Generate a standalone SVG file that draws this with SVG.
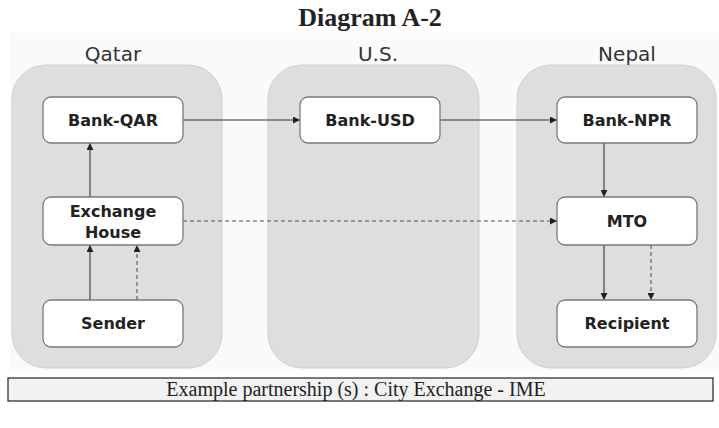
<svg xmlns="http://www.w3.org/2000/svg" width="719" height="428" viewBox="0 0 719 428">
<style>
.panel{fill:#dedede;stroke:#cfcfcf;stroke-width:1}
.node{fill:#ffffff;stroke:#7a7a7a;stroke-width:1.3}
.nt{font-family:"DejaVu Sans",Verdana,sans-serif;font-weight:bold;font-size:16px;fill:#222;text-anchor:middle}
.pl{font-family:"DejaVu Sans",Verdana,sans-serif;font-size:20px;fill:#333;text-anchor:middle}
.ln{stroke:#333;stroke-width:1.1;fill:none}
.dash{stroke-dasharray:4 3;stroke:#555}
</style>
<defs>
<marker id="ah" viewBox="0 0 10 10" refX="10" refY="5" markerWidth="7" markerHeight="7" orient="auto" markerUnits="userSpaceOnUse">
<path d="M0,0 L10,5 L0,10 z" fill="#222"/>
</marker>
</defs>
<rect x="0" y="0" width="719" height="428" fill="#ffffff"/>
<rect x="10" y="33" width="709" height="338" fill="#fafafa"/>
<text x="370" y="26" font-family="'Liberation Serif','Times New Roman',serif" font-weight="bold" font-size="26" text-anchor="middle" fill="#222">Diagram A-2</text>
<g id="panel-qatar">
<rect class="panel" x="12" y="65" width="210" height="303" rx="34"/>
<text class="pl" x="113" y="61">Qatar</text>
</g>
<g id="panel-us">
<rect class="panel" x="268" y="65" width="211" height="303" rx="34"/>
<text class="pl" x="378" y="61">U.S.</text>
</g>
<g id="panel-nepal">
<rect class="panel" x="517" y="65" width="199" height="303" rx="34"/>
<text class="pl" x="627" y="61">Nepal</text>
</g>
<g id="connectors">
<line class="ln" x1="183" y1="120" x2="300" y2="120" marker-end="url(#ah)"/>
<line class="ln" x1="440" y1="120" x2="557" y2="120" marker-end="url(#ah)"/>
<line class="ln" x1="90" y1="197" x2="90" y2="143" marker-end="url(#ah)"/>
<line class="ln" x1="90" y1="300" x2="90" y2="245" marker-end="url(#ah)"/>
<line class="ln dash" x1="137" y1="300" x2="137" y2="245" marker-end="url(#ah)"/>
<line class="ln dash" x1="183" y1="221" x2="557" y2="221" marker-end="url(#ah)"/>
<line class="ln" x1="604" y1="143" x2="604" y2="197" marker-end="url(#ah)"/>
<line class="ln" x1="604" y1="245" x2="604" y2="300" marker-end="url(#ah)"/>
<line class="ln dash" x1="651" y1="245" x2="651" y2="300" marker-end="url(#ah)"/>
</g>
<g id="bank-qar">
<rect class="node" x="43" y="97" width="140" height="46" rx="8"/>
<text class="nt" x="113" y="126">Bank-QAR</text>
</g>
<g id="bank-usd">
<rect class="node" x="300" y="97" width="140" height="46" rx="8"/>
<text class="nt" x="370" y="126">Bank-USD</text>
</g>
<g id="bank-npr">
<rect class="node" x="557" y="97" width="140" height="46" rx="8"/>
<text class="nt" x="627" y="126">Bank-NPR</text>
</g>
<g id="exchange-house">
<rect class="node" x="43" y="197" width="140" height="48" rx="8"/>
<text class="nt" x="113" y="217">Exchange</text>
<text class="nt" x="113" y="238">House</text>
</g>
<g id="mto">
<rect class="node" x="557" y="197" width="140" height="48" rx="8"/>
<text class="nt" x="627" y="227">MTO</text>
</g>
<g id="sender">
<rect class="node" x="43" y="300" width="140" height="47" rx="8"/>
<text class="nt" x="113" y="329">Sender</text>
</g>
<g id="recipient">
<rect class="node" x="557" y="300" width="140" height="47" rx="8"/>
<text class="nt" x="627" y="329">Recipient</text>
</g>
<g id="footer">
<rect x="8" y="378" width="705" height="23" fill="#f2f2f2" stroke="#222" stroke-width="1.2"/>
<text x="356" y="396" font-family="'Liberation Serif','Times New Roman',serif" font-size="20" text-anchor="middle" fill="#222">Example partnership (s) : City Exchange - IME</text>
</g>
</svg>
